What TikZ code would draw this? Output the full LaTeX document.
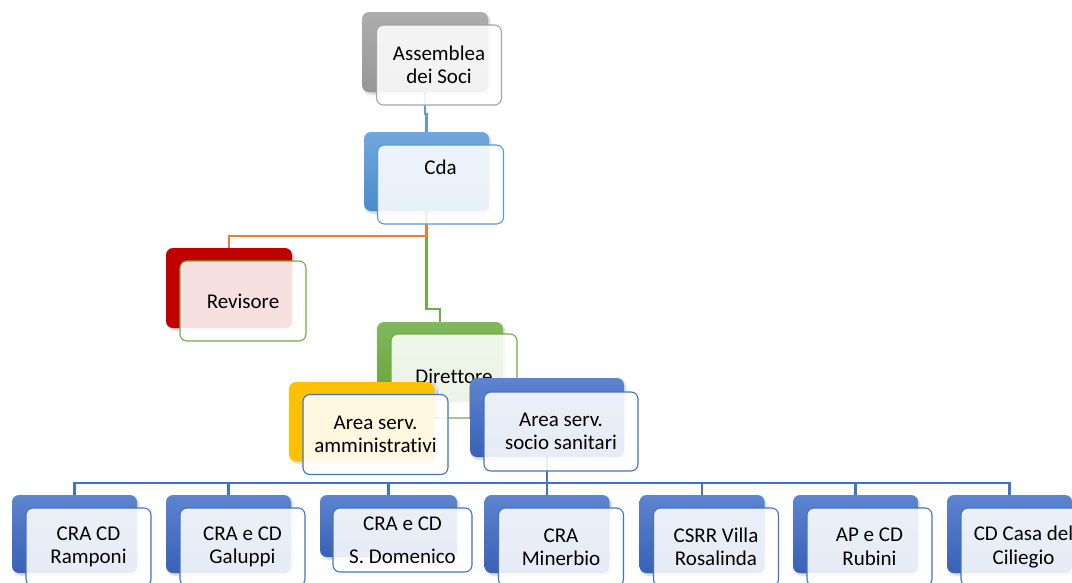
\documentclass[tikz,border=0pt]{standalone}
\usepackage{fontspec}
\setmainfont[Ligatures={NoCommon}]{Carlito}
\usetikzlibrary{calc}
\usetikzlibrary{backgrounds}
\usetikzlibrary{shadows.blur}

\definecolor{grayTop}{HTML}{ADADAD}
\definecolor{grayBot}{HTML}{979797}
\definecolor{grayLine}{HTML}{A5A5A5}
\definecolor{skyTop}{HTML}{70A8DD}
\definecolor{skyBot}{HTML}{4A8BCB}
\definecolor{skyLine}{HTML}{5B9BD5}
\definecolor{redBack}{HTML}{C00000}
\definecolor{grnTop}{HTML}{7FB95C}
\definecolor{grnBot}{HTML}{65A53A}
\definecolor{grnLine}{HTML}{70AD47}
\definecolor{orgLine}{HTML}{ED7D31}
\definecolor{yelBack}{HTML}{FFC000}
\definecolor{bluTop}{HTML}{5C84CF}
\definecolor{bluBot}{HTML}{3961B6}
\definecolor{bluLine}{HTML}{4472C4}

\begin{document}
\begin{tikzpicture}[x=1pt,y=-1pt]
\tikzstyle{back}=[rectangle,rounded corners=7pt,draw=none,inner sep=0pt,outer sep=0pt,
  blur shadow={shadow xshift=1.5pt,shadow yshift=-2pt,shadow blur steps=6,shadow opacity=22}]
\tikzstyle{front}=[rectangle,rounded corners=7pt,align=center,inner sep=0pt,outer sep=0pt,
  line width=1.1pt,fill=white,fill opacity=0.88,text opacity=1,
  font=\fontsize{21}{23.5}\selectfont]
\tikzstyle{txt}=[align=center,inner sep=0pt,font=\fontsize{21}{23.5}\selectfont]
\tikzstyle{link}=[line width=2.4pt]
\useasboundingbox (0,0) rectangle (1072,582);

% Assemblea dei Soci
\node[back,top color=grayTop,bottom color=grayBot,minimum width=126,minimum height=80] (asb) at (425,52) {};
\node[front,draw=grayLine,minimum width=125,minimum height=80] (asf) at ([shift={(14,13)}]asb.center) {Assemblea\\dei Soci};

% Cda
\node[back,top color=skyTop,bottom color=skyBot,minimum width=125,minimum height=79] (cdab) at (426.5,171.5) {};
\node[front,draw=skyLine,minimum width=126,minimum height=79] (cdaf) at ([shift={(14,13)}]cdab.center) {};
\node[txt] (cdat) at ([shift={(0,-17)}]cdaf.center) {Cda};

% Revisore
\node[back,fill=redBack,minimum width=126,minimum height=80] (revb) at (229,288) {};
\node[front,draw=grnLine,minimum width=126,minimum height=80] (revf) at ([shift={(14,13)}]revb.center) {Revisore};

% Direttore
\node[back,top color=grnTop,bottom color=grnBot,minimum width=126,minimum height=80] (dirb) at (440,362) {};
\node[front,draw=grnLine,minimum width=126,minimum height=84] (dirf) at ([shift={(14,14)}]dirb.center) {Direttore};

% aree
\node[back,fill=yelBack,minimum width=145,minimum height=79] (amb) at (361.5,421.5) {};
\node[front,draw=bluLine,minimum width=145,minimum height=80] (amf) at ([shift={(14,13)}]amb.center) {Area serv.\\amministrativi};
\node[back,top color=bluTop,bottom color=bluBot,minimum width=154,minimum height=79] (ssb) at (547,417.5) {};
\node[front,draw=bluLine,minimum width=154,minimum height=79] (ssf) at ([shift={(14,14)}]ssb.center) {Area serv.\\socio sanitari};

% strutture
\tikzstyle{unit}=[back,top color=bluTop,bottom color=bluBot,minimum width=125,minimum height=78]
\tikzstyle{unitf}=[front,draw=bluLine,minimum width=125,minimum height=78]
\node[unit] (ramb) at (74.5,534) {};
\node[unitf] (ramf) at ([shift={(14,13)}]ramb.center) {CRA CD\\Ramponi};
\node[unit] (galb) at (228.5,534) {};
\node[unitf] (galf) at ([shift={(14,13)}]galb.center) {CRA e CD\\Galuppi};
\node[unit,minimum width=137,minimum height=62] (domb) at (388.5,526) {};
\node[unitf,minimum width=139,minimum height=64] (domf) at ([shift={(14,14)}]domb.center) {CRA e CD\\[9.5pt]S. Domenico};
\node[unit] (minb) at (547,534) {};
\node[unitf] (minf) at ([shift={(14,13)}]minb.center) {CRA\\Minerbio};
\node[unit] (rosb) at (702,534) {};
\node[unitf] (rosf) at ([shift={(14,13)}]rosb.center) {CSRR Villa\\Rosalinda};
\node[unit] (rubb) at (855.5,534) {};
\node[unitf] (rubf) at ([shift={(14,13)}]rubb.center) {AP e CD\\Rubini};
\node[unit] (cilb) at (1009.5,534) {};
\node[unitf] (cilf) at ([shift={(14,13)}]cilb.center) {CD Casa del\\Ciliegio};

% collegamenti
\begin{scope}[on background layer]
\draw[link,skyLine] (asb.south) -- ++(0,22) -| (cdab.north);
\draw[link,grnLine] (cdab.south) -- ++(0,98) -| (dirb.north);
\draw[link,orgLine] (cdab.south) -- ++(0,25) -| (revb.north);
\draw[link,bluLine] (ssb.south) -- ++(0,26) coordinate (bus);
\foreach \u in {ramb,galb,domb,minb,rosb,rubb,cilb}
  \draw[link,bluLine] (bus) -| (\u.north);
\end{scope}
\end{tikzpicture}
\end{document}
